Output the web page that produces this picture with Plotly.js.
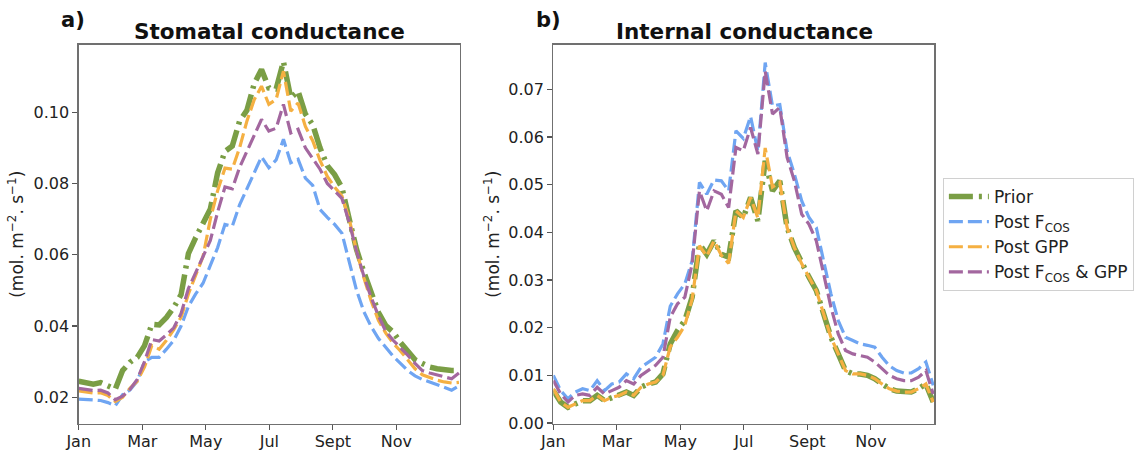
<!DOCTYPE html>
<html>
<head>
<meta charset="utf-8">
<script src="https://cdn.plot.ly/plotly-3.0.1.min.js"></script>
<style>html,body{margin:0;padding:0;background:#fff;}#chart{width:1136px;height:450px;}</style>
</head>
<body>
<div id="chart"></div>
<script>
// Day of year of each weekly value
const dayOfYear = [0,7,14,21,28,35,42,49,56,63,70,77,84,91,98,105,112,119,126,133,140,147,154,161,168,175,182,189,196,203,210,217,224,231,238,245,252,259,266,273,280,287,294,301,308,315,322,329,336,343,350,357,364];

// labelled month ticks and unlabelled in-between month ticks (day of year)
const monthTickDays = [0,60.83,121.67,182.5,243.33,304.17];
const monthTickLabels = ['Jan','Mar','May','Jul','Sept','Nov'];
const minorMonthDays = [30.42,91.25,152.08,212.92,273.75,334.58];

const seriesNames = ['Prior','Post F<sub>COS</sub>','Post GPP','Post F<sub>COS</sub> &amp; GPP'];

// a) Stomatal conductance
const stomPrior = [0.0245,0.0241,0.0237,0.0241,0.0232,0.0223,0.0275,0.0298,0.0312,0.0345,0.0405,0.0403,0.0424,0.0452,0.0488,0.0603,0.0648,0.0686,0.0728,0.0830,0.0890,0.0905,0.0975,0.1005,0.1080,0.1120,0.1068,0.1065,0.1142,0.1040,0.1059,0.0995,0.0965,0.0900,0.0850,0.0825,0.0788,0.0700,0.0615,0.0551,0.0494,0.0438,0.0401,0.0383,0.0354,0.0330,0.0305,0.0295,0.0285,0.0280,0.0277,0.0275,0.0275];
const stomPostFcos = [0.0195,0.0194,0.0193,0.0191,0.0185,0.0176,0.0207,0.0220,0.0245,0.0300,0.0312,0.0312,0.0335,0.0360,0.0400,0.0455,0.0490,0.0520,0.0570,0.0620,0.0685,0.0680,0.0740,0.0785,0.0825,0.0875,0.0844,0.0866,0.0924,0.0858,0.0868,0.0815,0.0795,0.0727,0.0705,0.0685,0.0660,0.0580,0.0500,0.0440,0.0398,0.0365,0.0340,0.0315,0.0295,0.0275,0.0260,0.0250,0.0243,0.0236,0.0228,0.0220,0.0232];
const stomPostGpp = [0.0218,0.0215,0.0212,0.0213,0.0205,0.0188,0.0200,0.0225,0.0245,0.0285,0.0345,0.0335,0.0360,0.0390,0.0425,0.0490,0.0545,0.0595,0.0700,0.0780,0.0843,0.0840,0.0900,0.0975,0.1035,0.1073,0.1022,0.1036,0.1115,0.1003,0.1026,0.0960,0.0920,0.0865,0.0820,0.0790,0.0765,0.0700,0.0610,0.0535,0.0470,0.0415,0.0380,0.0352,0.0330,0.0305,0.0280,0.0263,0.0255,0.0248,0.0243,0.0240,0.0242];
const stomPostBoth = [0.0225,0.0222,0.0219,0.0220,0.0212,0.0193,0.0203,0.0222,0.0250,0.0300,0.0362,0.0358,0.0375,0.0395,0.0435,0.0505,0.0550,0.0590,0.0640,0.0720,0.0790,0.0785,0.0845,0.0890,0.0935,0.0980,0.0947,0.0955,0.1022,0.0942,0.0952,0.0900,0.0870,0.0840,0.0800,0.0780,0.0758,0.0690,0.0610,0.0540,0.0480,0.0428,0.0385,0.0360,0.0340,0.0318,0.0295,0.0275,0.0268,0.0262,0.0256,0.0252,0.0268];

// b) Internal conductance
const intPrior = [0.0068,0.0044,0.0033,0.0040,0.0047,0.0047,0.0058,0.0047,0.0054,0.0058,0.0065,0.0058,0.0075,0.0082,0.0086,0.0103,0.0166,0.0194,0.0215,0.0264,0.0375,0.0354,0.0382,0.0354,0.0348,0.0445,0.0431,0.0473,0.0424,0.0550,0.0487,0.0508,0.0410,0.0368,0.0334,0.0306,0.0278,0.0229,0.0180,0.0145,0.0110,0.0103,0.0103,0.0100,0.0093,0.0082,0.0072,0.0067,0.0065,0.0065,0.0072,0.0082,0.0044];
const intPostFcos = [0.0100,0.0068,0.0051,0.0065,0.0072,0.0068,0.0089,0.0068,0.0082,0.0086,0.0103,0.0093,0.0117,0.0128,0.0138,0.0166,0.0245,0.0271,0.0292,0.0340,0.0505,0.0480,0.0510,0.0508,0.0487,0.0613,0.0597,0.0643,0.0570,0.0756,0.0665,0.0668,0.0571,0.0522,0.0466,0.0431,0.0410,0.0340,0.0271,0.0215,0.0180,0.0173,0.0166,0.0163,0.0159,0.0138,0.0120,0.0110,0.0105,0.0105,0.0114,0.0128,0.0079];
const intPostGpp = [0.0072,0.0044,0.0033,0.0040,0.0047,0.0047,0.0058,0.0047,0.0054,0.0058,0.0065,0.0058,0.0075,0.0082,0.0086,0.0100,0.0160,0.0180,0.0205,0.0260,0.0372,0.0350,0.0382,0.0352,0.0335,0.0445,0.0431,0.0473,0.0430,0.0577,0.0495,0.0505,0.0410,0.0368,0.0334,0.0306,0.0278,0.0229,0.0180,0.0145,0.0110,0.0103,0.0103,0.0100,0.0093,0.0082,0.0072,0.0067,0.0065,0.0065,0.0072,0.0082,0.0044];
const intPostBoth = [0.0089,0.0061,0.0044,0.0058,0.0061,0.0058,0.0075,0.0061,0.0068,0.0075,0.0089,0.0082,0.0100,0.0110,0.0121,0.0138,0.0222,0.0250,0.0264,0.0334,0.0487,0.0445,0.0487,0.0480,0.0452,0.0578,0.0571,0.0620,0.0564,0.0738,0.0648,0.0662,0.0557,0.0508,0.0438,0.0417,0.0382,0.0313,0.0243,0.0187,0.0152,0.0145,0.0141,0.0138,0.0128,0.0114,0.0100,0.0093,0.0089,0.0089,0.0096,0.0110,0.0061];

const colors = ['#7a9e45','#6fa5f2','#f5b042','#a3679f'];
const widths = [5.5,3.2,3.2,3.2];
const dashes = ['24px,6px,3px,6px','14px,5px','14px,5px','14px,5px'];

const panelA = [stomPrior, stomPostFcos, stomPostGpp, stomPostBoth];
const panelB = [intPrior, intPostFcos, intPostGpp, intPostBoth];

const traces = [];
panelA.forEach((ys, k) => {
  traces.push({x: dayOfYear, y: ys, xaxis:'x', yaxis:'y', type:'scatter', mode:'lines',
    name: seriesNames[k], legendgroup:'g'+k, showlegend:true,
    line:{color:colors[k], width:widths[k], dash:dashes[k]}});
});
panelB.forEach((ys, k) => {
  traces.push({x: dayOfYear, y: ys, xaxis:'x2', yaxis:'y2', type:'scatter', mode:'lines',
    name: seriesNames[k], legendgroup:'g'+k, showlegend:false,
    line:{color:colors[k], width:widths[k], dash:dashes[k]}});
});

const axisCommon = {
  showline:true, mirror:true, linecolor:'#707070', linewidth:1.3,
  ticks:'outside', ticklen:5, tickwidth:1.2, tickcolor:'#555',
  showgrid:false, zeroline:false,
  tickfont:{size:16, color:'#222'}
};
// unlabelled month ticks, drawn by an overlaid axis without labels
const minorAxis = {showline:false, showgrid:false, zeroline:false, showticklabels:false,
  ticks:'outside', ticklen:5, tickwidth:1.2, tickcolor:'#555',
  range:[0,365], tickmode:'array', tickvals:minorMonthDays};
const ytitle = '(mol. m<sup>−2</sup>. s<sup>−1</sup>)';

const layout = {
  width:1136, height:450,
  margin:{l:0,r:0,t:0,b:0},
  paper_bgcolor:'#fff', plot_bgcolor:'#fff',
  font:{family:'DejaVu Sans, sans-serif', color:'#222'},
  xaxis: Object.assign({}, axisCommon, {domain:[0.0693,0.4049], range:[0,365], tickmode:'array', tickvals:monthTickDays, ticktext:monthTickLabels, anchor:'y', ticklabelstandoff:-2}),
  yaxis: Object.assign({}, axisCommon, {domain:[0.0578,0.9011], range:[0.0125,0.119], tickmode:'array', tickvals:[0.02,0.04,0.06,0.08,0.10], tickformat:'.2f', anchor:'x',
    title:{text:ytitle, font:{size:17, color:'#222'}, standoff:5}}),
  xaxis2: Object.assign({}, axisCommon, {domain:[0.4871,0.8224], range:[0,365], tickmode:'array', tickvals:monthTickDays, ticktext:monthTickLabels, anchor:'y2', ticklabelstandoff:-2}),
  yaxis2: Object.assign({}, axisCommon, {domain:[0.0578,0.9011], range:[-0.0002,0.0794], tickmode:'array', tickvals:[0,0.01,0.02,0.03,0.04,0.05,0.06,0.07], tickformat:'.2f', anchor:'x2',
    title:{text:ytitle, font:{size:17, color:'#222'}, standoff:4}}),
  xaxis3: Object.assign({}, minorAxis, {overlaying:'x', anchor:'y', side:'bottom'}),
  xaxis4: Object.assign({}, minorAxis, {overlaying:'x2', anchor:'y2', side:'bottom'}),
  showlegend:true,
  legend:{x:0.830, y:1-178/450, xanchor:'left', yanchor:'top', bgcolor:'rgba(255,255,255,0.9)', bordercolor:'#d0d0d0', borderwidth:1,
    font:{size:17, color:'#222'}, tracegroupgap:0, itemwidth:40, entrywidth:200, entrywidthmode:'pixels'},
  annotations:[
    {text:'<b>a)</b>', xref:'paper', yref:'paper', x:59/1136, y:1-20/450, xanchor:'left', yanchor:'middle', showarrow:false, font:{size:21, color:'#111'}},
    {text:'<b>Stomatal conductance</b>', xref:'paper', yref:'paper', x:269/1136, y:1-31/450, xanchor:'center', yanchor:'middle', showarrow:false, font:{size:21.5, color:'#111'}},
    {text:'<b>b)</b>', xref:'paper', yref:'paper', x:534/1136, y:1-20/450, xanchor:'left', yanchor:'middle', showarrow:false, font:{size:21, color:'#111'}},
    {text:'<b>Internal conductance</b>', xref:'paper', yref:'paper', x:744/1136, y:1-31/450, xanchor:'center', yanchor:'middle', showarrow:false, font:{size:21.5, color:'#111'}}
  ]
};

Plotly.newPlot('chart', traces, layout, {staticPlot:true, displayModeBar:false});
</script>
</body>
</html>
